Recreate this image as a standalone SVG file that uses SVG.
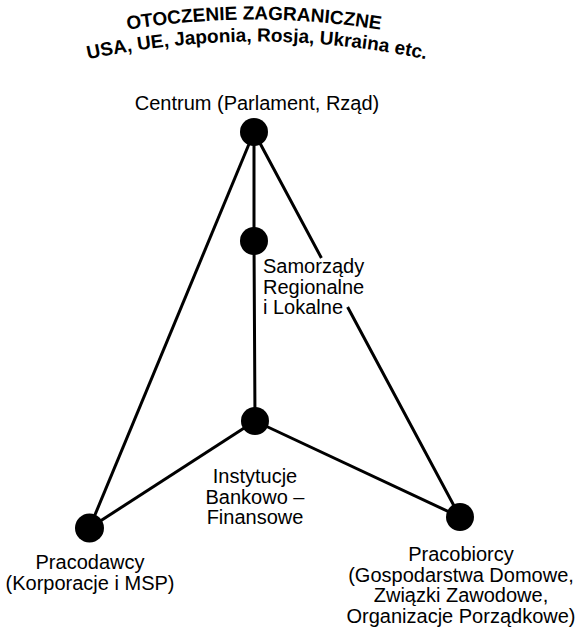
<svg xmlns="http://www.w3.org/2000/svg" width="576" height="630" viewBox="0 0 576 630">
<style>
.t{font-family:"Liberation Sans",Arial,sans-serif;font-size:20px;fill:#000}
.b{font-family:"Liberation Sans",Arial,sans-serif;font-size:19px;font-weight:bold;fill:#000}
.c{text-anchor:middle}
.e{stroke:#000;stroke-width:3;fill:none}
.n{fill:#000}
</style>
<defs>
<path id="arc1" d="M 104 34 A 786 786 0 0 1 404 34"/>
<path id="arc2" d="M 57 66.6 A 812 812 0 0 1 457 66.6"/>
</defs>
<rect width="576" height="630" fill="#fff"/>
<g id="header">
<text class="b"><textPath href="#arc1" startOffset="50%" text-anchor="middle">OTOCZENIE ZAGRANICZNE</textPath></text>
<text class="b"><textPath href="#arc2" startOffset="50%" text-anchor="middle">USA, UE, Japonia, Rosja, Ukraina etc.</textPath></text>
</g>
<g id="connectors">
<path class="e" d="M254 132 L89.5 528"/>
<path class="e" d="M254 132 L254 241 L255 421"/>
<path class="e" d="M254 132 L321.4 258 M347.6 307 L460 517"/>
<path class="e" d="M255 421 L89.5 528"/>
<path class="e" d="M255 421 L460 517"/>
</g>
<g id="centrum">
<circle class="n" cx="254" cy="132" r="14"/>
<text class="t c" x="257" y="110">Centrum (Parlament, Rząd)</text>
</g>
<g id="samorzady">
<circle class="n" cx="254" cy="241" r="14"/>
<text class="t" x="263" y="273">Samorządy</text>
<text class="t" x="263" y="293.5">Regionalne</text>
<text class="t" x="263" y="314">i Lokalne</text>
</g>
<g id="instytucje">
<circle class="n" cx="255" cy="421" r="14"/>
<text class="t c" x="255" y="483">Instytucje</text>
<text class="t c" x="255" y="503.5">Bankowo –</text>
<text class="t c" x="255" y="524">Finansowe</text>
</g>
<g id="pracodawcy">
<circle class="n" cx="89.5" cy="528" r="14.5"/>
<text class="t c" x="90" y="569">Pracodawcy</text>
<text class="t c" x="90" y="590">(Korporacje i MSP)</text>
</g>
<g id="pracobiorcy">
<circle class="n" cx="460" cy="517" r="14"/>
<text class="t c" x="461" y="561">Pracobiorcy</text>
<text class="t c" x="461" y="581.5">(Gospodarstwa Domowe,</text>
<text class="t c" x="461" y="602">Związki Zawodowe,</text>
<text class="t c" x="461" y="622.5">Organizacje Porządkowe)</text>
</g>
</svg>
